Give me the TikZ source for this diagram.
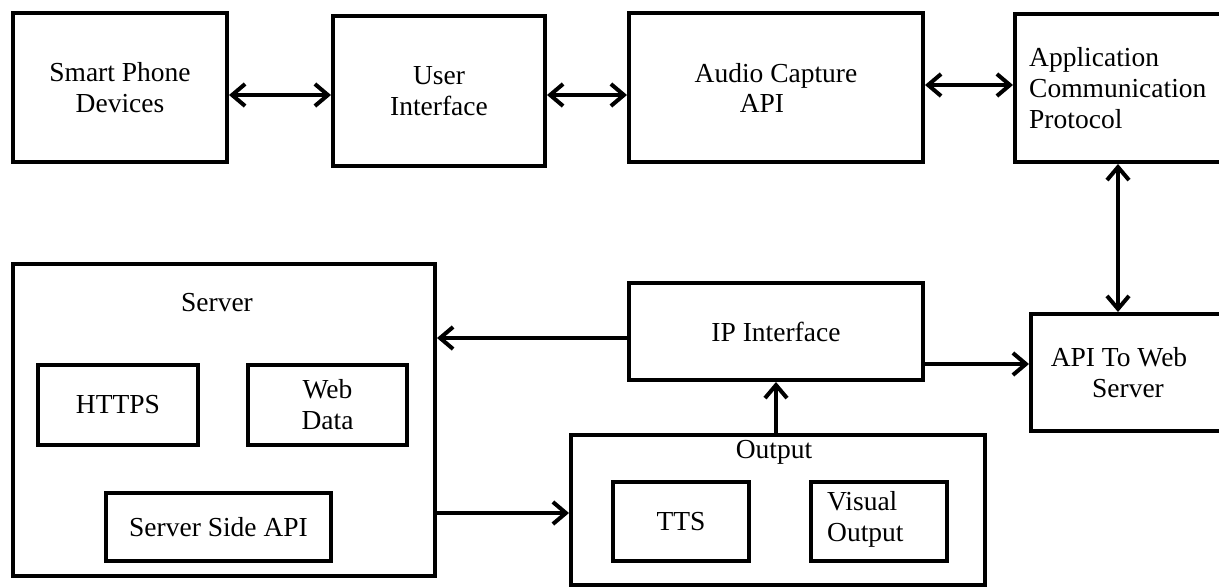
\documentclass[tikz,border=0pt]{standalone}
\usepackage{fontspec}
\setmainfont{Liberation Serif}
\usetikzlibrary{arrows.meta}
\tikzset{
  blk/.style={draw, line width=4pt, inner sep=0pt, align=center, font=\fontsize{27.5}{31}\selectfont},
  lbl/.style={inner sep=0pt, align=center, font=\fontsize{27.5}{31}\selectfont},
  tip/.style={Straight Barb[length=13pt,width=22pt,line width=4pt]},
  arr/.style={line width=4.5pt, -{Straight Barb[length=13pt,width=22pt,line width=4pt]}},
  darr/.style={line width=4.5pt, {Straight Barb[length=13pt,width=22pt,line width=4pt]}-{Straight Barb[length=13pt,width=22pt,line width=4pt]}}
}
\begin{document}
\begin{tikzpicture}[x=1pt,y=-1pt]
\useasboundingbox (0,0) rectangle (1219,587);
% top row
\node[blk, minimum width=214pt, minimum height=149pt] (sp) at (120,87.5) {Smart Phone\\Devices};
\node[blk, minimum width=212pt, minimum height=150pt] (ui) at (439,91) {User\\Interface};
\node[blk, minimum width=294pt, minimum height=149pt] (ac) at (776,87.5) {Audio Capture\\[-1pt]\hspace*{-28pt}API};
\node[blk, minimum width=215pt, minimum height=148pt] (acp) at (1122.5,88) {};
\node[lbl, anchor=west, align=left] (acpt) at (1029,88) {Application\\Communication\\Protocol};
% middle
\node[blk, minimum width=294pt, minimum height=97pt] (ip) at (776,331.5) {IP Interface};
\node[blk, minimum width=199pt, minimum height=117pt] (api) at (1130.5,372.5) {};
\node[lbl] (apit) at (1119,373) {API To Web\\\hspace*{18pt}Server};
% server
\node[blk, minimum width=422pt, minimum height=312pt] (srv) at (224,420) {};
\node[lbl] (srvt) at (217,303) {Server};
\node[blk, minimum width=160pt, minimum height=80pt] (https) at (118,405) {HTTPS};
\node[blk, minimum width=159pt, minimum height=80pt] (wd) at (327.5,405) {Web\\Data};
\node[blk, minimum width=225pt, minimum height=68pt] (ssa) at (218.5,527) {Server Side API};
% output
\node[blk, minimum width=414pt, minimum height=150pt] (out) at (778,510) {};
\node[lbl] (outt) at (774,452) {Output};
\node[blk, minimum width=136pt, minimum height=79pt] (tts) at (681,521.5) {TTS};
\node[blk, minimum width=136pt, minimum height=79pt] (vis) at (879,521.5) {};
\node[lbl, anchor=west, align=left] (vist) at (827,519) {Visual\\Output};
% helper rows
\coordinate (r1) at (0,95);
\coordinate (r2) at (0,85);
\coordinate (r3) at (1118,0);
\coordinate (r4) at (0,338);
\coordinate (r5) at (0,364);
\coordinate (r6) at (0,513);
\coordinate (r7) at (776,0);
% connectors
\draw[darr] (sp.east |- r1) -- (ui.west |- r1);
\draw[darr] (ui.east |- r1) -- (ac.west |- r1);
\draw[darr] (ac.east |- r2) -- (acp.west |- r2);
\draw[darr] (acp.south -| r3) -- (api.north -| r3);
\draw[arr] (ip.west |- r4) -- (srv.east |- r4);
\draw[arr] (ip.east |- r5) -- (api.west |- r5);
\draw[arr] (srv.east |- r6) -- (out.west |- r6);
\draw[arr] (out.north -| r7) -- (ip.south -| r7);
\end{tikzpicture}
\end{document}
